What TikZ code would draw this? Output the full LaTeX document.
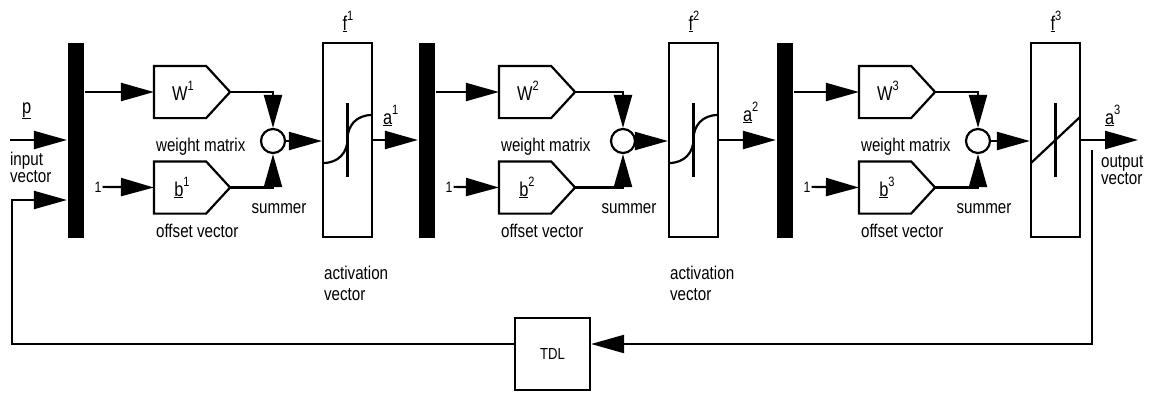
\documentclass[tikz,border=0pt]{standalone}
\usepackage{fontspec}
\setmainfont{Liberation Sans}[FakeStretch=0.82]
\usetikzlibrary{arrows.meta}
\newcommand{\supr}[1]{\raisebox{0.5em}{\fontsize{13.5}{13.5}\selectfont #1}}
\begin{document}
\begin{tikzpicture}[x=1pt,y=-1pt,line width=2.2pt,
  arr/.style={-{Triangle[length=33pt,width=18pt]}},
  barbox/.style={rectangle,fill=black,draw=none,minimum width=16pt,minimum height=195pt,inner sep=0pt},
  pent/.style={rectangle,draw=none,minimum width=74pt,minimum height=50pt,inner sep=0pt},
  sumc/.style={circle,draw,minimum size=24pt,inner sep=0pt},
  actbox/.style={rectangle,draw,minimum width=49pt,minimum height=194pt,inner sep=0pt},
  lbl/.style={inner sep=0pt,font=\fontsize{18.5}{21}\selectfont},
  big/.style={inner sep=0pt,font=\fontsize{20}{22}\selectfont},
  sml/.style={inner sep=0pt,font=\fontsize{15}{18}\selectfont},
  tdlbox/.style={rectangle,draw,minimum width=75pt,minimum height=72pt,inner sep=0pt,font=\fontsize{16}{18}\selectfont}
]
\useasboundingbox (0,0) rectangle (1152,392);

\foreach \i/\bx/\wx/\sx/\fx in {1/68/155/273/323,2/419/500/623/669,3/777/860/978/1031}{
  \node[barbox] (bar\i) at (\bx+8,140.5) {};
  \node[pent] (W\i) at (\wx+37,92) {};
  \draw (W\i.north west) -- ([xshift=-24pt]W\i.north east) -- (W\i.east) -- ([xshift=-24pt]W\i.south east) -- (W\i.south west) -- cycle;
  \node[pent] (B\i) at (\wx+37,187.5) {};
  \draw (B\i.north west) -- ([xshift=-24pt]B\i.north east) -- (B\i.east) -- ([xshift=-24pt]B\i.south east) -- (B\i.south west) -- cycle;
  \node[sumc] (S\i) at (\sx,141) {};
  \node[actbox] (F\i) at (\fx+24.5,140) {};
  \node[big,anchor=base] (WL\i) at (\wx+28,100) {W\supr{\i}};
  \node[big,anchor=base] (BL\i) at (\wx+27,196) {\underline{b}\supr{\i}};
  \node[sml,anchor=base] (one\i) at (\bx+30,192) {1};
  \node[lbl,anchor=base west] (wm\i) at (\wx,151) {weight matrix};
  \node[lbl,anchor=base west] (ov\i) at (\wx,237) {offset vector};
  \node[lbl,anchor=base] (sm\i) at (\sx+6,213) {summer};
  \node[big,anchor=base] (fl\i) at (\fx+25,30) {\underline{f}\supr{\i}};
  \draw[arr] (W\i.west -| bar\i.east) -- (W\i.west);
  \draw[arr] (one\i.east) -- (B\i.west);
  \draw[arr] (W\i.east) -| (S\i.north);
  \draw[arr] (B\i.east) -| (S\i.south);
  \draw[arr] (S\i.east) -- (S\i.east -| F\i.west);
  \draw (\fx+24.5,103) -- (\fx+24.5,177);
  \ifnum\i<3
    \draw (\fx,163) .. controls (\fx+16,163) and (\fx+24.5,152) .. (\fx+24.5,139) .. controls (\fx+24.5,126) and (\fx+33,115) .. (\fx+49,115);
    \node[lbl,anchor=base west] (ava\i) at (\fx,279) {activation};
    \node[lbl,anchor=base west] (avb\i) at (\fx,300) {vector};
  \else
    \draw (\fx,163) -- (\fx+49,117);
  \fi
}

\node[big,anchor=base west] (al1) at (382,124) {\underline{a}\supr{1}};
\node[big,anchor=base west] (al2) at (742,121) {\underline{a}\supr{2}};
\node[big,anchor=base west] (al3) at (1104,124) {\underline{a}\supr{3}};

\draw[arr] (F1.east) -- (F1.east -| bar2.west);
\draw[arr] (F2.east) -- (F2.east -| bar3.west);
\coordinate (out) at (1138,140);
\draw[arr] (F3.east) -- (out);
\node[lbl,anchor=base west] (ov1a) at (1100,167) {output};
\node[lbl,anchor=base west] (ov1b) at (1100,184) {vector};

\coordinate (pin) at (10,140);
\draw[arr] (pin) -- (pin -| bar1.west);
\node[big,anchor=base west] (plab) at (21,113) {\underline{p}};
\node[lbl,anchor=base west] (iv1) at (9,165) {input};
\node[lbl,anchor=base west] (iv2) at (9,182) {vector};

\node[tdlbox] (TDL) at (552.5,354) {TDL};
\coordinate (fbtop) at (1092,150);
\coordinate (fbR) at (1092,344);
\coordinate (fbL) at (12,200);
\draw[arr] (fbtop) -- (fbR) -- (fbR -| TDL.east);
\draw[arr] (fbR -| TDL.west) -| (fbL) -- (fbL -| bar1.west);
\end{tikzpicture}
\end{document}
